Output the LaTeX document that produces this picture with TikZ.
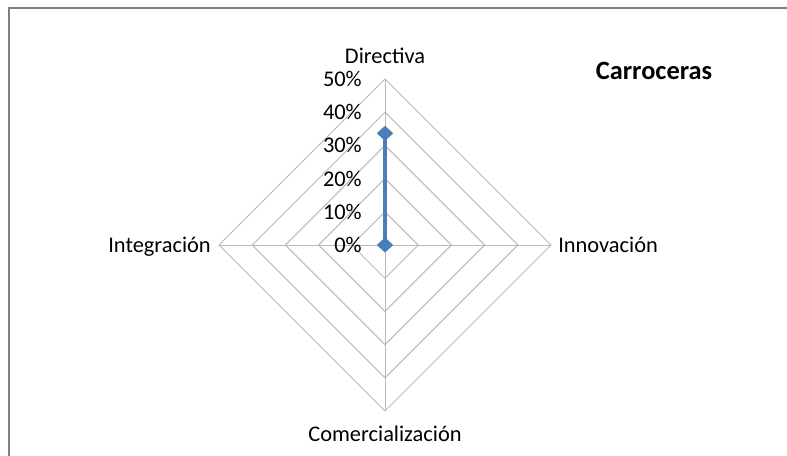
\documentclass[tikz,border=0pt]{standalone}
\usepackage{fontspec}
\setmainfont{Carlito}
\usetikzlibrary{shapes.geometric}
\definecolor{serieblue}{HTML}{4A7EBB}
\newcommand{\clrgrid}{black!27}
\newcommand{\clrframe}{black!50}
\newcommand{\clrserie}{serieblue}

\begin{document}
\begin{tikzpicture}[x=0.75pt, y=0.75pt,
    ring/.style={draw=\clrgrid, line width=0.75pt},
    tick/.style={anchor=base east, inner sep=0pt, font=\fontsize{16.8}{20}\selectfont},
    axislbl/.style={inner sep=0pt, font=\fontsize{16.8}{20}\selectfont},
    dot/.style={diamond, fill=\clrserie, inner sep=0pt, minimum width=12.5pt, minimum height=11.5pt},
    serie/.style={draw=\clrserie, line width=3pt}]
    \useasboundingbox (-385,-210) rectangle (402,245);

    % chart area frame
    \draw[\clrframe, line width=1.5pt] (-376,-215) -- (-376,237) -- (410,237);

    % rings
    \draw[ring] (90:33.2) -- (0:33.2) -- (270:33.2) -- (180:33.2) -- cycle;
    \draw[ring] (90:66.4) -- (0:66.4) -- (270:66.4) -- (180:66.4) -- cycle;
    \draw[ring] (90:99.6) -- (0:99.6) -- (270:99.6) -- (180:99.6) -- cycle;
    \draw[ring] (90:132.8) -- (0:132.8) -- (270:132.8) -- (180:132.8) -- cycle;
    \draw[ring] (90:166) -- (0:166) -- (270:166) -- (180:166) -- cycle;
    \draw[ring] (-166,0) -- (166,0);
    \draw[ring] (0,-166) -- (0,166);

    % scale
    \node[tick] (t0) at (-23,-7.5) {0\%};
    \node[tick] (t1) at (-23,25.7) {10\%};
    \node[tick] (t2) at (-23,58.9) {20\%};
    \node[tick] (t3) at (-23,92.1) {30\%};
    \node[tick] (t4) at (-23,125.3) {40\%};
    \node[tick] (t5) at (-23,158.5) {50\%};

    % axes
    \node[axislbl, anchor=base] (dir) at (0,182) {Directiva};
    \node[axislbl, anchor=base west] (inn) at (173,-7) {Innovación};
    \node[axislbl, anchor=base] (com) at (0,-196) {Comercialización};
    \node[axislbl, anchor=base east] (int) at (-174,-7) {Integración};

    % series
    \node[dot] (v0) at (0,0) {};
    \node[dot] (v1) at (90:111.7) {};
    \draw[serie] (v0.center) -- (v1.center);

    \node[inner sep=0pt, anchor=base, font=\fontsize{19.8}{24}\selectfont\bfseries] (title) at (269,166) {Carroceras};
\end{tikzpicture}
\end{document}
